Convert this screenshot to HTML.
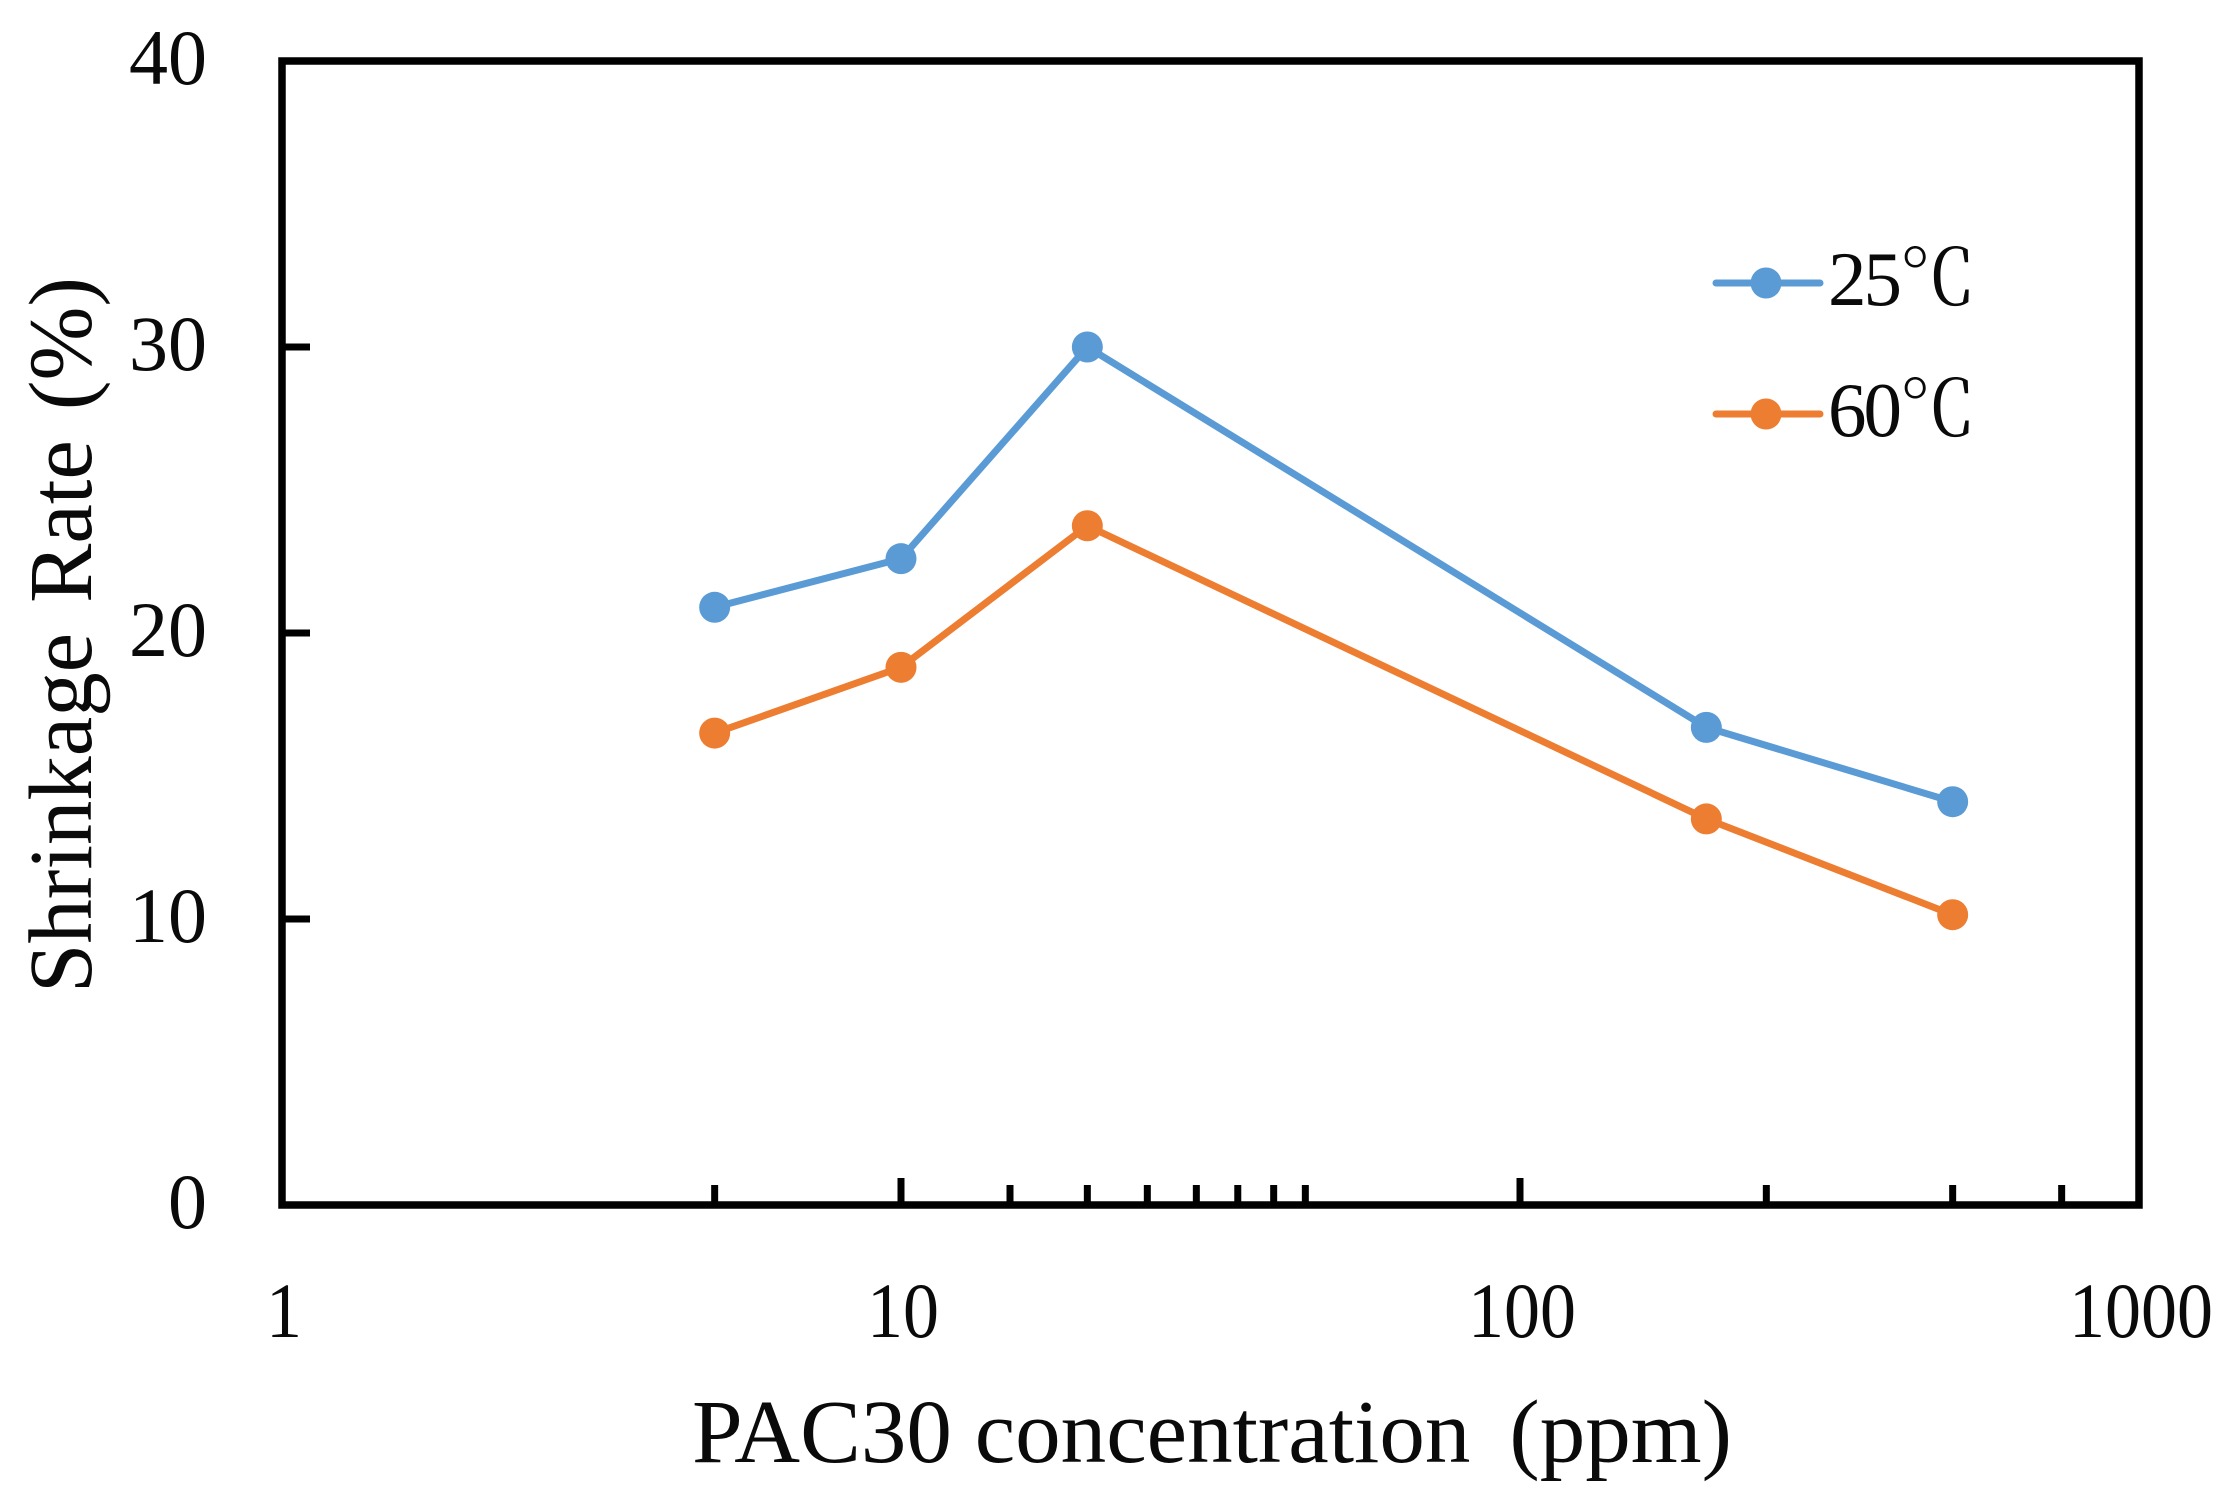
<!DOCTYPE html>
<html lang="en">
<head>
<meta charset="utf-8">
<title>Shrinkage Rate vs PAC30 concentration</title>
<style>
  html, body { margin: 0; padding: 0; background: #fff; }
  #chart { display: block; }
  text { font-family: "Liberation Serif", "Noto Serif CJK SC", serif; fill: #0a0a0a; white-space: pre; }
</style>
</head>
<body>
<svg id="chart" xmlns="http://www.w3.org/2000/svg" width="2230" height="1510" viewBox="0 0 2230 1510">
  <rect x="0" y="0" width="2230" height="1510" fill="#ffffff"></rect>
  <g id="marks"></g>
  <rect x="282" y="61" width="1857" height="1144" fill="none" stroke="#000" stroke-width="7.5"></rect>
  <g id="axes"></g>
  <text x="692" y="1462" font-size="90" textLength="1040" lengthAdjust="spacingAndGlyphs">PAC30 concentration<tspan word-spacing="16"> (ppm)</tspan></text>
  <text transform="translate(91,993) rotate(-90)" x="0" y="0" font-size="90" word-spacing="8" textLength="716" lengthAdjust="spacingAndGlyphs">Shrinkage Rate (%)</text>
  <g id="legend"></g>
</svg>
<script>
const concentrations = [5, 10, 20, 200, 500];
const shrinkage25 = [20.9, 22.6, 30.0, 16.7, 14.1];
const shrinkage60 = [16.5, 18.8, 23.75, 13.5, 10.15];
const seriesNames = ["25℃", "60℃"];
const yTickValues = [0, 10, 20, 30, 40];
const xLabelValues = [1, 10, 100, 1000];
const xMajorTicks = [10, 100];
const xMinorTicks = [5, 15, 20, 25, 30, 35, 40, 45, 250, 500, 750];

const NS = "http://www.w3.org/2000/svg";
const plot = { left: 282, right: 2139, top: 61, bottom: 1205 };
const xMin = 1, xMax = 1000, yMin = 0, yMax = 40;
const colors = ["#5B9BD5", "#ED7D31"];

function xScale(v) {
  return plot.left + (Math.log10(v) - Math.log10(xMin)) / (Math.log10(xMax) - Math.log10(xMin)) * (plot.right - plot.left);
}
function yScale(v) {
  return plot.bottom - (v - yMin) / (yMax - yMin) * (plot.bottom - plot.top);
}
function make(tag, attrs, parent) {
  const el = document.createElementNS(NS, tag);
  for (const k in attrs) el.setAttribute(k, attrs[k]);
  parent.appendChild(el);
  return el;
}

const axes = document.getElementById("axes");
const marks = document.getElementById("marks");
const legend = document.getElementById("legend");

yTickValues.forEach(function (v) {
  if (v !== yMin && v !== yMax) {
    const tick = make("line", { x1: plot.left, x2: plot.left + 28, y1: yScale(v), y2: yScale(v), stroke: "#000", "stroke-width": 7 }, axes);
    
    
  }
  const label = make("text", { x: 207, y: yScale(v) + 23, "font-size": 78, "text-anchor": "end" }, axes);
  label.textContent = String(v);
  
  
});

xMajorTicks.forEach(function (v) {
  const tick = make("line", { x1: xScale(v), x2: xScale(v), y1: plot.bottom, y2: plot.bottom - 27, stroke: "#000", "stroke-width": 7 }, axes);
  
  
});

xMinorTicks.forEach(function (v) {
  const tick = make("line", { x1: xScale(v), x2: xScale(v), y1: plot.bottom, y2: plot.bottom - 20, stroke: "#000", "stroke-width": 7 }, axes);
  
  
});

xLabelValues.forEach(function (v) {
  const s = String(v);
  const label = make("text", { x: xScale(v) + 2, y: 1337, "font-size": 78, "text-anchor": "middle", textLength: s.length * 36, lengthAdjust: "spacingAndGlyphs" }, axes);
  label.textContent = s;
  
  
});

[shrinkage25, shrinkage60].forEach(function (values, i) {
  const pts = values.map(function (v, j) { return xScale(concentrations[j]) + "," + yScale(v); }).join(" ");
  const line = make("polyline", { points: pts, fill: "none", stroke: colors[i], "stroke-width": 7, "stroke-linejoin": "round", "stroke-linecap": "round" }, marks);
  
  
  values.forEach(function (v, j) {
    const dot = make("circle", { cx: xScale(concentrations[j]), cy: yScale(v), r: 15.5, fill: colors[i] }, marks);
    
    
  });
});

seriesNames.forEach(function (name, i) {
  const y = 283 + i * 131;
  const key = make("line", { x1: 1716, x2: 1820, y1: y, y2: y, stroke: colors[i], "stroke-width": 7, "stroke-linecap": "round" }, legend);
  
  
  const dot = make("circle", { cx: 1766, cy: y, r: 15.5, fill: colors[i] }, legend);
  
  
  const label = make("text", { x: 1828, y: y + 22, "font-size": 77, "letter-spacing": "-3" }, legend);
  label.textContent = name;
  
  
});
</script>
</body>
</html>
